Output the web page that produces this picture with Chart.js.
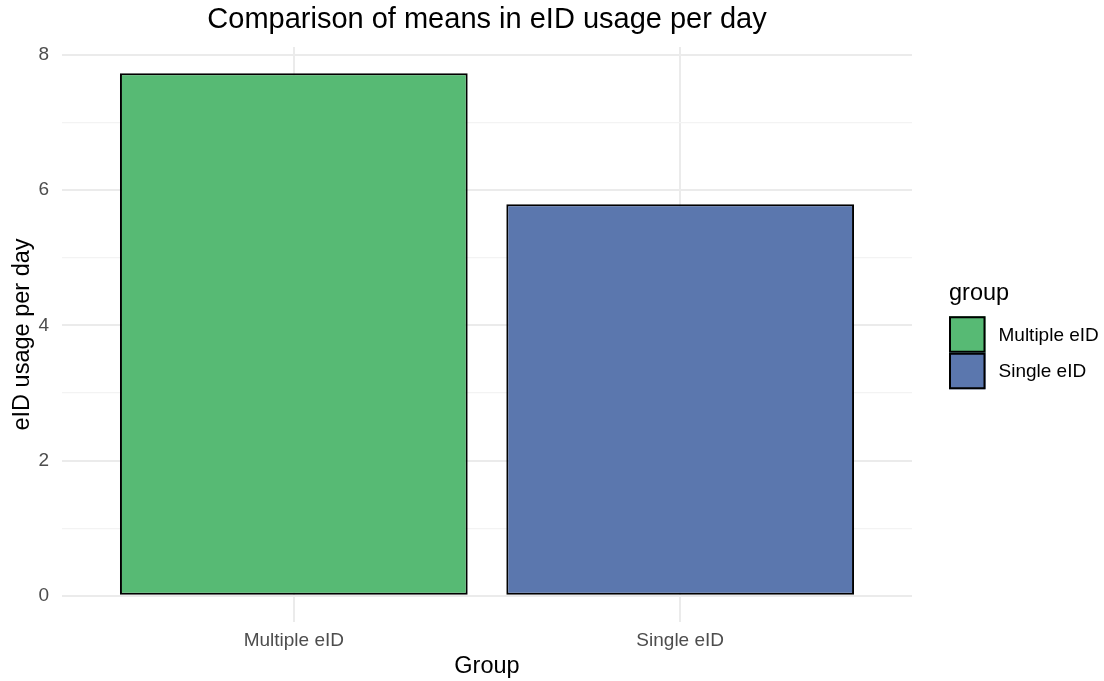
<!DOCTYPE html>
<html><head><meta charset="utf-8">
<script src="https://cdn.jsdelivr.net/npm/chart.js@4.4.0/dist/chart.umd.min.js"></script>
<style>html,body{margin:0;padding:0;background:#fff;overflow:hidden;}</style>
</head><body>
<canvas id="c" width="1104" height="681"></canvas>
<script>
const categories = ['Multiple eID', 'Single eID'];
const categoryPositions = [1, 2];
const meanValues = [7.73, 5.79];
const barColors = ['#57BA74', '#5B77AE'];
const yTickValues = [0, 1, 2, 3, 4, 5, 6, 7, 8];
const yLabelValues = [0, 2, 4, 6, 8];

const FONT = '"Liberation Sans", Arial, Helvetica, sans-serif';
const maxVal = Math.max(...meanValues);
const yExpand = maxVal * 0.05;

const datasets = categories.map((cat, i) => ({
  label: cat,
  data: [{ x: categoryPositions[i], y: meanValues[i] }],
  backgroundColor: barColors[i],
  borderColor: '#000000',
  borderWidth: 2,
  borderSkipped: false,
  grouped: false,
  categoryPercentage: 1,
  barPercentage: 0.9
}));

const legendPlugin = {
  id: 'ggLegend',
  afterDraw(chart) {
    const ctx = chart.ctx;
    const area = chart.chartArea;
    const key = 36.5;
    const x0 = area.right + 37;
    const mid = (area.top + area.bottom) / 2;
    const ds = chart.data.datasets;
    const top = mid - key / 2;
    ctx.save();
    ctx.fillStyle = '#000';
    ctx.font = '23.5px ' + FONT;
    ctx.textAlign = 'left';
    ctx.textBaseline = 'middle';
    ctx.fillText('group', x0, top - 23);
    ds.forEach((d, i) => {
      const y = top + i * key;
      ctx.fillStyle = d.backgroundColor;
      ctx.fillRect(x0, y, key, key);
      ctx.strokeStyle = '#000';
      ctx.lineWidth = 2;
      ctx.strokeRect(x0 + 1, y + 1, key - 2, key - 2);
      ctx.fillStyle = '#000';
      ctx.font = '19px ' + FONT;
      ctx.fillText(d.label, x0 + key + 13, y + key / 2 + 1);
    });
    ctx.restore();
  }
};

new Chart(document.getElementById('c'), {
  type: 'bar',
  data: { datasets },
  options: {
    responsive: false,
    animation: false,
    devicePixelRatio: 1,
    layout: { padding: { left: 0, right: 192, top: 0, bottom: 0 } },
    plugins: {
      legend: { display: false },
      tooltip: { enabled: false },
      title: {
        display: true,
        text: 'Comparison of means in eID usage per day',
        fullSize: false,
        color: '#000',
        font: { family: FONT, size: 29, weight: 'normal', lineHeight: 1.2 },
        padding: { top: 3, bottom: 9.2 }
      }
    },
    scales: {
      x: {
        type: 'linear',
        min: 0.4,
        max: 2.6,
        offset: false,
        afterBuildTicks: (s) => { s.ticks = categoryPositions.map(v => ({ value: v })); },
        afterFit: (s) => { s.height = 59; },
        ticks: {
          autoSkip: false,
          padding: 7,
          color: '#4D4D4D',
          font: { family: FONT, size: 19 },
          callback: (v) => categories[categoryPositions.indexOf(v)] || ''
        },
        grid: { color: '#EBEBEB', lineWidth: 2, drawTicks: false, offset: false },
        border: { display: false },
        title: {
          display: true, text: 'Group', color: '#000',
          font: { family: FONT, size: 23.5 }, padding: { top: 0, bottom: 0 }
        }
      },
      y: {
        type: 'linear',
        min: -yExpand,
        max: maxVal + yExpand,
        afterBuildTicks: (s) => { s.ticks = yTickValues.map(v => ({ value: v })); },
        afterFit: (s) => { s.width = 62; },
        ticks: {
          autoSkip: false,
          padding: 13,
          color: '#4D4D4D',
          font: { family: FONT, size: 19 },
          callback: (v) => yLabelValues.includes(v) ? String(v) : ''
        },
        grid: {
          drawTicks: false,
          color: (c) => (c.tick && yLabelValues.includes(c.tick.value)) ? '#EBEBEB' : '#F3F3F3',
          lineWidth: (c) => (c.tick && yLabelValues.includes(c.tick.value)) ? 2 : 1.3
        },
        border: { display: false },
        title: {
          display: true, text: 'eID usage per day', color: '#000',
          font: { family: FONT, size: 23.5 }, padding: { top: 8, bottom: 0 }
        }
      }
    }
  },
  plugins: [legendPlugin]
});
</script>
</body></html>
